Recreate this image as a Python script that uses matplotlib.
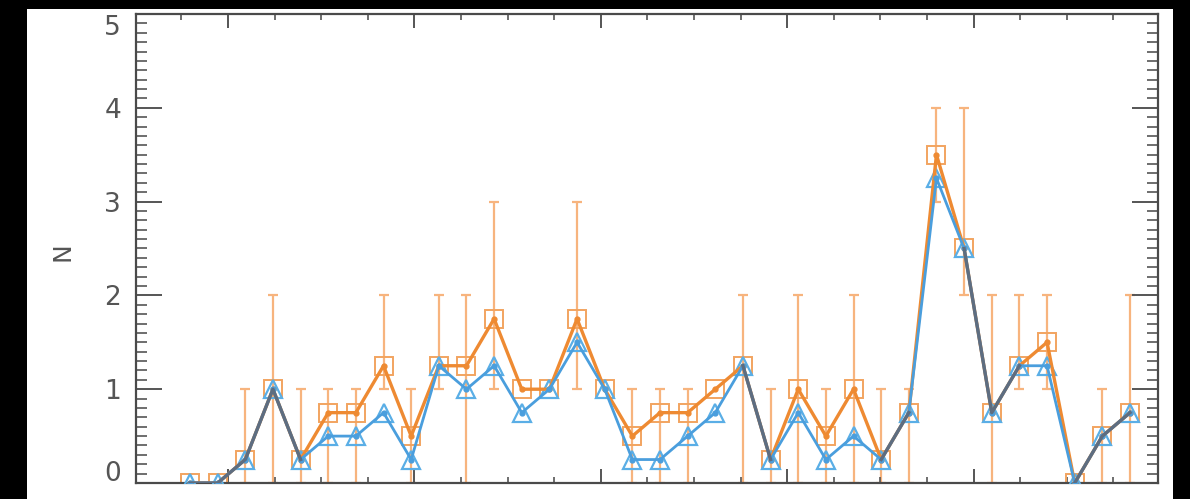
import numpy as np
import matplotlib
matplotlib.use("Agg")
import matplotlib.pyplot as plt
from matplotlib.patches import Rectangle
from matplotlib.ticker import FixedLocator, MultipleLocator
from matplotlib.transforms import ScaledTranslation, blended_transform_factory

# ---- data ----
bins = np.arange(35)
orange_vals = [0, 0, 0.25, 1, 0.25, 0.75, 0.75, 1.25, 0.5, 1.25, 1.25, 1.75, 1.0, 1.0, 1.75,
               1.0, 0.5, 0.75, 0.75, 1.0, 1.25, 0.25, 1.0, 0.5, 1.0, 0.25, 0.75, 3.5, 2.5,
               0.75, 1.25, 1.5, 0, 0.5, 0.75]
blue_vals = [0, 0, 0.25, 1, 0.25, 0.5, 0.5, 0.75, 0.25, 1.25, 1.0, 1.25, 0.75, 1.0, 1.5,
             1.0, 0.25, 0.25, 0.5, 0.75, 1.25, 0.25, 0.75, 0.25, 0.5, 0.25, 0.75, 3.25, 2.5,
             0.75, 1.25, 1.25, 0, 0.5, 0.75]
nan = np.nan
err_low = [nan, nan, 0, 0, 0, 0, 0, 1, 0, 1, 0, 1, nan, nan, 1,
           nan, 0, 0, 0, nan, 0, 0, 0, 0, 0, 0, 0, 3, 2,
           0, 1, 1, nan, 0, 0]
err_high = [nan, nan, 1, 2, 1, 1, 1, 2, 1, 2, 2, 3, nan, nan, 3,
            nan, 1, 1, 1, nan, 2, 1, 2, 1, 2, 1, 1, 4, 4,
            2, 2, 2, nan, 1, 2]
y_ticks = [0, 1, 2, 3, 4, 5]
y_ticklabels = ["0", "1", "2", "3", "4", "5"]
y_label = "N"

orange = np.array(orange_vals, dtype=float)
blue = np.array(blue_vals, dtype=float)
lo = np.array(err_low, dtype=float)
hi = np.array(err_high, dtype=float)

W, H = 1190, 499
fig = plt.figure(figsize=(W / 100, H / 100), dpi=100, facecolor="black")
fig.patches.append(Rectangle((27 / W, 0), (1173 - 27) / W, (H - 9) / H,
                             transform=fig.transFigure, facecolor="white",
                             edgecolor="none", zorder=-10))
ax = fig.add_axes([136 / W, (H - 483) / H, (1158 - 136) / W, (483 - 14) / H])
ax.set_zorder(5)
ax.set_facecolor("white")

c_err = "#F7B47E"
c_sq = "#F2A460"
c_or = "#EE8A32"
c_tri = "#5AAEE6"
c_bl = "#4A9EDD"
c_ov = "#5E6D80"

mask = ~np.isnan(lo)
ax.vlines(bins[mask], lo[mask], hi[mask], color=c_err, lw=1.6, zorder=1)
ax.plot(bins[mask], lo[mask], ls="none", marker="_", ms=7, mew=1.6, color=c_err, zorder=1)
ax.plot(bins[mask], hi[mask], ls="none", marker="_", ms=7, mew=1.6, color=c_err, zorder=1)

ax.plot(bins, orange, ls="none", marker="s", ms=13, mfc="none", mec=c_sq, mew=1.4, zorder=2)
ax.plot(bins, blue, ls="none", marker="^", ms=13.5, mfc="none", mec=c_tri, mew=1.6, zorder=3)

ax.plot(bins, orange, color=c_or, lw=2.4, marker="o", ms=3.5, zorder=4)
ax.plot(bins, blue, color=c_bl, lw=2.0, marker="o", ms=3.5, zorder=5)
overlap = np.where(orange == blue, orange, np.nan)
ax.plot(bins, overlap, color=c_ov, lw=2.4, zorder=6)

x_left = (136 - 190) / 27.647
x_right = (1158 - 190) / 27.647
ax.set_xlim(x_left, x_right)
ax.set_ylim(0, 5)

x0 = (228 - 190) / 27.647
step = 46.6 / 27.647
ax.xaxis.set_major_locator(FixedLocator([x0 + 4 * step * k for k in range(-1, 6)]))
ax.xaxis.set_minor_locator(FixedLocator([x0 + step * k for k in range(-2, 22)]))
ax.set_xticklabels([])
ax.yaxis.set_major_locator(FixedLocator(y_ticks))
ax.yaxis.set_minor_locator(MultipleLocator(0.1))

ax.tick_params(axis="x", which="major", direction="in", length=10, width=1.4,
               color="#555555", top=True, bottom=True, labelbottom=False)
ax.tick_params(axis="x", which="minor", direction="in", length=4.5, width=1.2,
               color="#555555", top=True, bottom=True)
ax.tick_params(axis="y", which="major", direction="in", length=19, width=1.4,
               color="#555555", left=True, right=True, labelleft=False)
ax.tick_params(axis="y", which="minor", direction="in", length=8, width=1.2,
               color="#555555", left=True, right=True)
for s in ax.spines.values():
    s.set_color("#4a4a4a")
    s.set_linewidth(1.6)

# tick labels (edge labels pulled inside the axis range, as in the reference)
label_shift_px = {0: 9, 5: -14}
blend = blended_transform_factory(fig.transFigure, ax.transData)
for v, t in zip(y_ticks, y_ticklabels):
    dy = label_shift_px.get(v, -3) / 100
    tr = blend + ScaledTranslation(0, dy, fig.dpi_scale_trans)
    ax.text(121 / W, v, t, transform=tr, ha="right", va="center",
            fontsize=19, color="#555555", clip_on=False)

fig.text(62 / W, 1 - 252 / H, y_label, rotation=90, ha="center", va="center",
         fontsize=18, color="#555555")

fig.savefig("out.png", dpi=100, facecolor=fig.get_facecolor())
